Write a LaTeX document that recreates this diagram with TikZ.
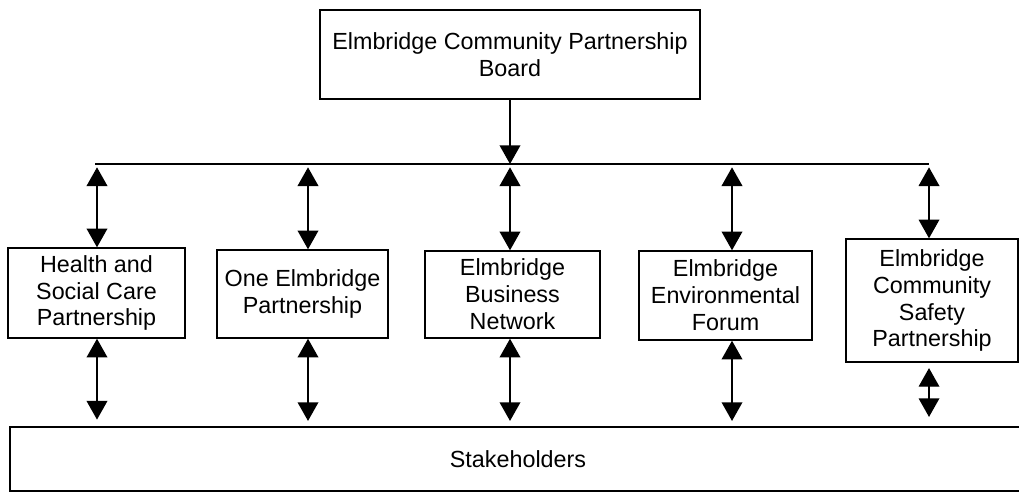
\documentclass[tikz,border=0pt]{standalone}
\usepackage{fontspec}
\setmainfont{Liberation Sans}
\usetikzlibrary{arrows.meta}

\begin{document}
\begin{tikzpicture}[
  x=0.75pt,y=-0.75pt,
  box/.style={rectangle,draw,line width=1.1pt,inner sep=0pt,align=center,
    font=\fontsize{17.5}{20.2}\selectfont},
  link/.style={line width=1.1pt,-{Triangle[width=15.5pt,length=14pt]}},
  both/.style={line width=1.1pt,{Triangle[width=15.5pt,length=14pt]}-{Triangle[width=15.5pt,length=14pt]}},
  line/.style={line width=1.1pt}
]
\useasboundingbox (0,0) rectangle (1019,492);
\clip (0,0) rectangle (1019,492);

\node[box,minimum width=285pt,minimum height=66.75pt] (board) at (510,54.5) {Elmbridge Community Partnership\\Board};

\node[box,minimum width=132.75pt,minimum height=67.5pt] (health) at (96.5,293) {Health and\\Social Care\\Partnership};
\node[box,minimum width=128.25pt,minimum height=66pt] (one) at (302.5,294) {One Elmbridge\\Partnership};
\node[box,minimum width=131.25pt,minimum height=65.25pt] (business) at (512.5,294.5) {Elmbridge\\Business\\Network};
\node[box,minimum width=129.75pt,minimum height=66.75pt] (environ) at (725.5,295.5) {Elmbridge\\Environmental\\Forum};
\node[box,minimum width=129pt,minimum height=92.25pt] (safety) at (932,300.5) {Elmbridge\\Community\\Safety\\Partnership};

\node[box,minimum width=762pt,minimum height=48pt] (stake) at (518,459) {Stakeholders};

% bus line under the board
\coordinate (b1) at (97,164);
\coordinate (b2) at (308,164);
\coordinate (b3) at (510,164);
\coordinate (b4) at (732,164);
\coordinate (b5) at (929,164);
\draw[line] ([xshift=-1.5pt]b1) -- (b5);

\draw[link] (board.south) -- (b3);

\foreach \b/\n in {b1/health,b2/one,b3/business,b4/environ,b5/safety}
  \draw[both,shorten <=2.5pt] (\b) -- (\b |- \n.north);

\draw[both,shorten >=5pt] (b1 |- health.south) -- (b1 |- stake.north);
\draw[both,shorten >=4pt] (b2 |- one.south) -- (b2 |- stake.north);
\draw[both,shorten >=4pt] (b3 |- business.south) -- (b3 |- stake.north);
\draw[both,shorten >=4pt] (b4 |- environ.south) -- (b4 |- stake.north);
\draw[both,shorten <=4pt,shorten >=7pt] (b5 |- safety.south) -- (b5 |- stake.north);

\end{tikzpicture}
\end{document}
